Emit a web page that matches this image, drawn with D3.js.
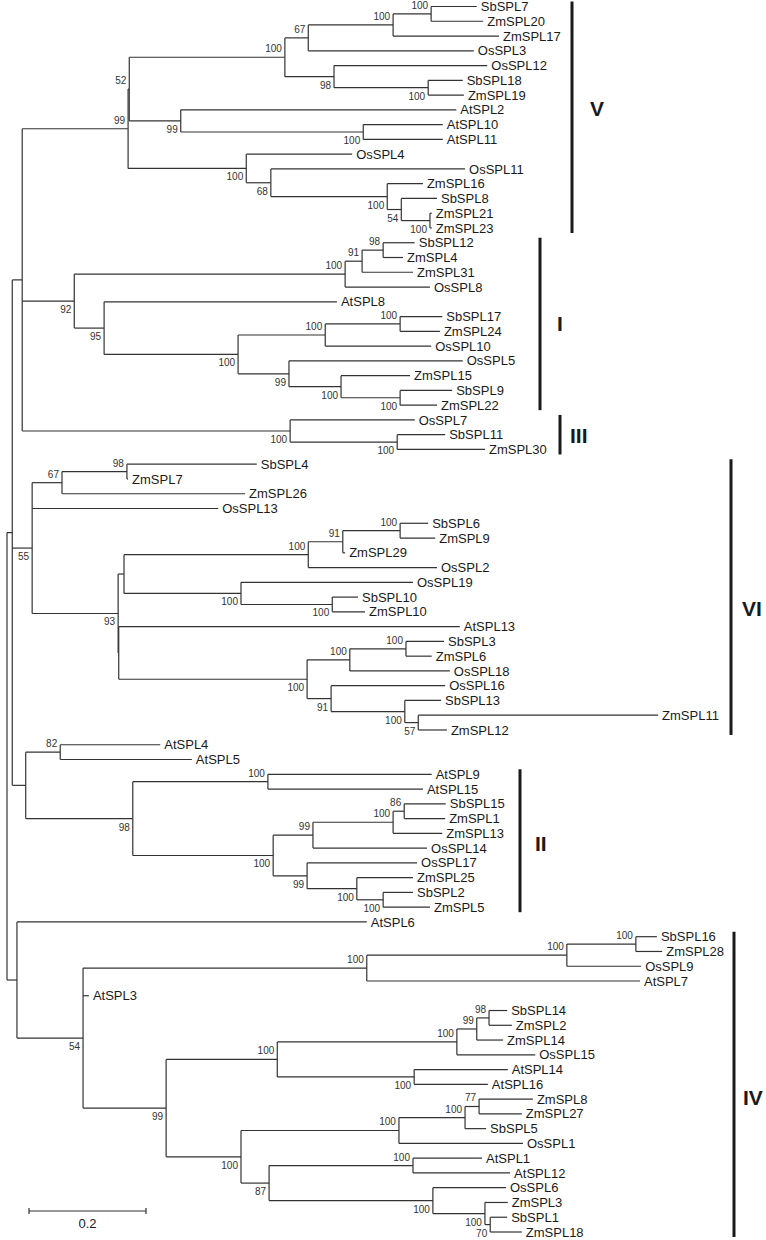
<!DOCTYPE html>
<html>
<head>
<meta charset="utf-8">
<script src="https://cdn.jsdelivr.net/npm/d3@7"></script>
<style>
  body { margin: 0; background: #fff; }
  svg { display: block; }
  text { font-family: "Liberation Sans", Arial, sans-serif; }
</style>
</head>
<body>
<div id="tree"></div>
<script>
// Leaves, top to bottom. Depth = distance from the root (substitutions/site).
var leafNames = [
  "SbSPL7","ZmSPL20","ZmSPL17","OsSPL3","OsSPL12","SbSPL18","ZmSPL19","AtSPL2","AtSPL10","AtSPL11","OsSPL4","OsSPL11","ZmSPL16","SbSPL8","ZmSPL21","ZmSPL23",
  "SbSPL12","ZmSPL4","ZmSPL31","OsSPL8","AtSPL8","SbSPL17","ZmSPL24","OsSPL10","OsSPL5","ZmSPL15","SbSPL9","ZmSPL22",
  "OsSPL7","SbSPL11","ZmSPL30",
  "SbSPL4","ZmSPL7","ZmSPL26","OsSPL13","SbSPL6","ZmSPL9","ZmSPL29","OsSPL2","OsSPL19","SbSPL10","ZmSPL10","AtSPL13","SbSPL3","ZmSPL6","OsSPL18","OsSPL16","SbSPL13","ZmSPL11","ZmSPL12",
  "AtSPL4","AtSPL5",
  "AtSPL9","AtSPL15","SbSPL15","ZmSPL1","ZmSPL13","OsSPL14","OsSPL17","ZmSPL25","SbSPL2","ZmSPL5",
  "AtSPL6",
  "SbSPL16","ZmSPL28","OsSPL9","AtSPL7","AtSPL3","SbSPL14","ZmSPL2","ZmSPL14","OsSPL15","AtSPL14","AtSPL16","ZmSPL8","ZmSPL27","SbSPL5","OsSPL1","AtSPL1","AtSPL12","OsSPL6","ZmSPL3","SbSPL1","ZmSPL18"
];
var leafParents = [
  "V100a","V100a","V100b","V67","V98","V100d","V100d","V99h","V100g","V100g","V100n","V68","V100l","V54","V100j","V100j",
  "I98","I98","I91","I100r","I95","I100s","I100s","I100t","I99w","I100v","I100u","I100u",
  "III100a","III100b","III100b",
  "VI98","VI98","VI67","VI55","VI100b","VI100b","VI91","VI100a","VI100c","VI100d","VI100d","VIx","VI100g","VI100g","VI100f","VI91b","VI100h","VI57","VI57",
  "A82","A82",
  "II100a","II100a","II86","II86","II100c","II99a","II99b","II100d","II100e","II100e",
  "n17",
  "IV100c","IV100c","IV100b","IV100a","IV54","IV98","IV98","IV99b","IV100e","IV100f","IV100f","IV77","IV77","IV100i","IV100h","IV100j","IV100j","IV100k","IV100l","IV70","IV70"
];
var leafDepths = [
  0.803,0.814,0.841,0.798,0.821,0.779,0.781,0.768,0.745,0.745,0.590,0.783,0.711,0.735,0.726,0.726,
  0.697,0.677,0.694,0.723,0.564,0.744,0.740,0.725,0.779,0.689,0.761,0.735,
  0.697,0.749,0.817,
  0.427,0.207,0.407,0.361,0.720,0.732,0.578,0.735,0.694,0.600,0.612,0.774,0.747,0.726,0.757,0.749,0.742,1.113,0.752,
  0.262,0.316,
  0.726,0.711,0.750,0.749,0.744,0.718,0.701,0.694,0.694,0.723,
  0.615,
  1.111,1.120,1.084,1.082,0.140,0.855,0.863,0.848,0.903,0.856,0.822,0.899,0.880,0.819,0.882,0.812,0.860,0.853,0.856,0.855,0.880
];

// Internal nodes: id, parent, depth from root, bootstrap support
var cladeIds = [
  "root","n12","n22",
  "V99","V52","V100f","V67","V100b","V100a","V98","V100d","V99h","V100g","V100n","V68","V100l","V54","V100j",
  "I92","I100r","I91","I98","I95","I100x","I100t","I100s","I99w","I100v","I100u",
  "III100a","III100b",
  "VI55","VI67","VI98","VI93","VIa","VI100a","VI91","VI100b","VI100c","VI100d","VIx","VI100e","VI100f","VI100g","VI91b","VI100h","VI57",
  "n26","A82","II98","II100a","II100b","II99a","II100c","II86","II99b","II100d","II100e",
  "n17","IV54","IV100a","IV100b","IV100c","IV99","IV100d","IV100e","IV99b","IV98","IV100f","IV100g","IV100h","IV100i","IV77","IV87","IV100j","IV100k","IV100l","IV70"
];
var cladeParents = [
  null,"root","n12",
  "n22","V99","V52","V100f","V67","V100b","V100f","V98","V52","V99h","V99","V100n","V68","V100l","V54",
  "n22","I92","I100r","I91","I92","I95","I100x","I100t","I100x","I99w","I100v",
  "n22","III100a",
  "n12","VI55","VI67","VI55","VI93","VIa","VI100a","VI91","VIa","VI100c","VI93","VIx","VI100e","VI100f","VI100e","VI91b","VI100h",
  "n12","n26","n26","II98","II98","II100b","II99a","II100c","II100b","II99b","II100d",
  "root","n17","IV54","IV100a","IV100b","IV54","IV99","IV100d","IV100e","IV99b","IV100d","IV99","IV100g","IV100h","IV100i","IV100g","IV87","IV87","IV100k","IV100l"
];
var cladeDepths = [
  0,0.009,0.026,
  0.207,0.209,0.475,0.515,0.660,0.725,0.559,0.720,0.297,0.609,0.409,0.451,0.650,0.674,0.723,
  0.115,0.578,0.607,0.643,0.166,0.395,0.544,0.672,0.482,0.571,0.672,
  0.484,0.667,
  0.043,0.094,0.205,0.190,0.200,0.515,0.574,0.672,0.400,0.556,0.191,0.513,0.586,0.682,0.554,0.680,0.703,
  0.032,0.091,0.215,0.446,0.455,0.523,0.660,0.679,0.513,0.598,0.643,
  0.017,0.130,0.615,0.957,1.075,0.272,0.462,0.769,0.803,0.824,0.696,0.400,0.670,0.783,0.807,0.448,0.694,0.728,0.817,0.826
];
var cladeSupport = [
  null,null,null,
  99,52,100,67,100,100,98,100,99,100,100,68,100,54,100,
  92,100,91,98,95,100,100,100,99,100,100,
  100,100,
  55,67,98,93,null,100,91,100,100,100,null,100,100,100,91,100,57,
  null,82,98,100,100,99,100,86,99,100,100,
  null,54,100,100,100,99,100,100,99,98,100,100,100,100,77,87,100,100,100,70
];

// Subfamily groups
var groupNames = ["V","I","III","VI","II","IV"];
var groupFirst = ["SbSPL7","SbSPL12","OsSPL7","SbSPL4","AtSPL9","SbSPL16"];
var groupLast  = ["ZmSPL23","ZmSPL22","ZmSPL30","ZmSPL12","ZmSPL5","ZmSPL18"];

var scaleBarValue = 0.2;

// layout
var svgWidth = 766, svgHeight = 1240;
var groupBarX = [572, 540, 560, 731, 520, 734];
var groupLabelX = [590, 557, 570, 742, 535, 743];
var groupLabelY = [108, 323, 435, 608, 843, 1097];

var svg = d3.select("#tree")
  .append("svg")
  .attr("width", svgWidth)
  .attr("height", svgHeight);

// Build the hierarchy
var rows = cladeIds.map(function(id, i) {
  return {id: id, parent: cladeParents[i], dist: cladeDepths[i], support: cladeSupport[i]};
}).concat(leafNames.map(function(name, i) {
  return {id: name, parent: leafParents[i], dist: leafDepths[i], support: null, leaf: i};
}));

var root = d3.stratify()
  .id(d => d.id)
  .parentId(d => d.parent)(rows);

root.eachAfter(function(n) {
  n.order = n.children ? d3.min(n.children, c => c.order) : n.data.leaf;
});
root.sort((a, b) => a.order - b.order);

var x = d3.scaleLinear().domain([0, 1]).range([7, 592]);
var y = d3.scaleLinear().domain([0, leafNames.length - 1]).range([6.5, 1232]);

root.eachAfter(function(n) {
  n.px = x(n.data.dist);
  if (n.children) {
    n.py = (n.children[0].py + n.children[n.children.length - 1].py) / 2;
  } else {
    n.py = y(n.data.leaf);
  }
});

// Branches
var branches = svg.append("g")
  .attr("fill", "none")
  .attr("stroke", "#333")
  .attr("stroke-width", 1.2);

branches.selectAll("path.horiz")
  .data(root.descendants().filter(n => n.parent))
  .join("path")
  .attr("class", "horiz")
  .attr("d", n => `M${n.parent.px},${n.py}H${n.px}`);

branches.selectAll("path.vert")
  .data(root.descendants().filter(n => n.children))
  .join("path")
  .attr("class", "vert")
  .attr("d", n => `M${n.px},${n.children[0].py}V${n.children[n.children.length - 1].py}`);

// Leaf labels
svg.append("g").selectAll("text")
  .data(root.leaves())
  .join("text")
  .attr("x", n => n.px + 4)
  .attr("y", n => n.py + 4.6)
  .attr("font-size", 13)
  .attr("fill", "#1a1a1a")
  .text(n => n.id);

// Bootstrap values: upper child above the branch, others below
svg.append("g").selectAll("text")
  .data(root.descendants().filter(n => n.data.support != null))
  .join("text")
  .attr("x", n => n.px - 3)
  .attr("y", n => n.py + (n.parent && n.parent.children[0] === n ? -5 : 12))
  .attr("text-anchor", "end")
  .attr("font-size", 10)
  .attr("fill", "#333")
  .text(n => n.data.support);

// Group bars
groupNames.forEach(function(g, i) {
  var y1 = y(leafNames.indexOf(groupFirst[i])) - 5;
  var y2 = y(leafNames.indexOf(groupLast[i])) + 5;
  svg.append("line")
    .attr("x1", groupBarX[i]).attr("x2", groupBarX[i])
    .attr("y1", y1).attr("y2", y2)
    .attr("stroke", "#1a1a1a")
    .attr("stroke-width", 3);
  svg.append("text")
    .attr("x", groupLabelX[i])
    .attr("y", groupLabelY[i] + 7.5)
    .attr("font-size", 21)
    .attr("font-weight", "bold")
    .attr("fill", "#1a1a1a")
    .text(g);
});

// Scale bar
var sbX = 29, sbY = 1211;
var sbW = x(scaleBarValue) - x(0);
svg.append("path")
  .attr("d", `M${sbX},${sbY}H${sbX + sbW}M${sbX},${sbY - 3}V${sbY + 3}M${sbX + sbW},${sbY - 3}V${sbY + 3}`)
  .attr("fill", "none")
  .attr("stroke", "#333")
  .attr("stroke-width", 1.2);
svg.append("text")
  .attr("x", sbX + sbW / 2)
  .attr("y", sbY + 17)
  .attr("text-anchor", "middle")
  .attr("font-size", 13)
  .attr("fill", "#1a1a1a")
  .text(scaleBarValue);
</script>
</body>
</html>
